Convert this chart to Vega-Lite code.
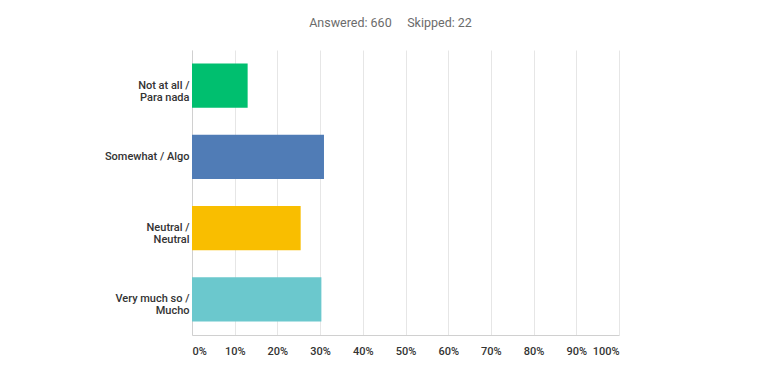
{
  "$schema": "https://vega.github.io/schema/vega-lite/v6.json",
  "width": 427,
  "height": 285,
  "autosize": {"type": "none"},
  "padding": {"left": 192, "top": 50, "right": 149, "bottom": 49},
  "background": "#ffffff",
  "title": {
    "text": "Answered: 660\u00a0\u00a0\u00a0\u00a0\u00a0Skipped: 22",
    "fontSize": 12.5,
    "font": "Roboto",
    "fontWeight": "normal",
    "color": "#6b6b6b",
    "anchor": "middle",
    "dx": -15,
    "offset": 21
  },
  "data": {
    "values": [
      {"answer": "Not at all /\nPara nada", "pct": 13.03, "color": "#00BF6F"},
      {"answer": "Somewhat / Algo", "pct": 30.91, "color": "#507CB6"},
      {"answer": "Neutral /\nNeutral", "pct": 25.45, "color": "#F9BE00"},
      {"answer": "Very much so /\nMucho", "pct": 30.3, "color": "#6BC8CD"}
    ]
  },
  "mark": {"type": "bar", "cornerRadius": 0},
  "encoding": {
    "y": {
      "field": "answer",
      "type": "nominal",
      "sort": null,
      "scale": {"paddingInner": 0.377, "paddingOuter": 0.1885},
      "axis": {
        "title": null,
        "ticks": false,
        "domain": true,
        "domainColor": "#d0d0d0",
        "labelPadding": 3,
        "labelFont": "Roboto",
        "labelFontWeight": 500,
        "labelFontSize": 11,
        "labelColor": "#333333",
        "labelLineHeight": 12,
        "labelExpr": "split(datum.label, '\\n')",
        "grid": false
      }
    },
    "x": {
      "field": "pct",
      "type": "quantitative",
      "scale": {"domain": [0, 100], "nice": false},
      "axis": {
        "title": null,
        "values": [0, 10, 20, 30, 40, 50, 60, 70, 80, 90, 100],
        "labelExpr": "datum.value + '%'",
        "ticks": false,
        "domainColor": "#d0d0d0",
        "grid": true,
        "gridColor": "#e6e6e6",
        "labelFlush": true,
        "labelPadding": 10,
        "labelFont": "Roboto",
        "labelFontWeight": 500,
        "labelFontSize": 11,
        "labelColor": "#333333"
      }
    },
    "color": {"field": "color", "type": "nominal", "scale": null, "legend": null}
  },
  "config": {
    "view": {"stroke": null}
  }
}
